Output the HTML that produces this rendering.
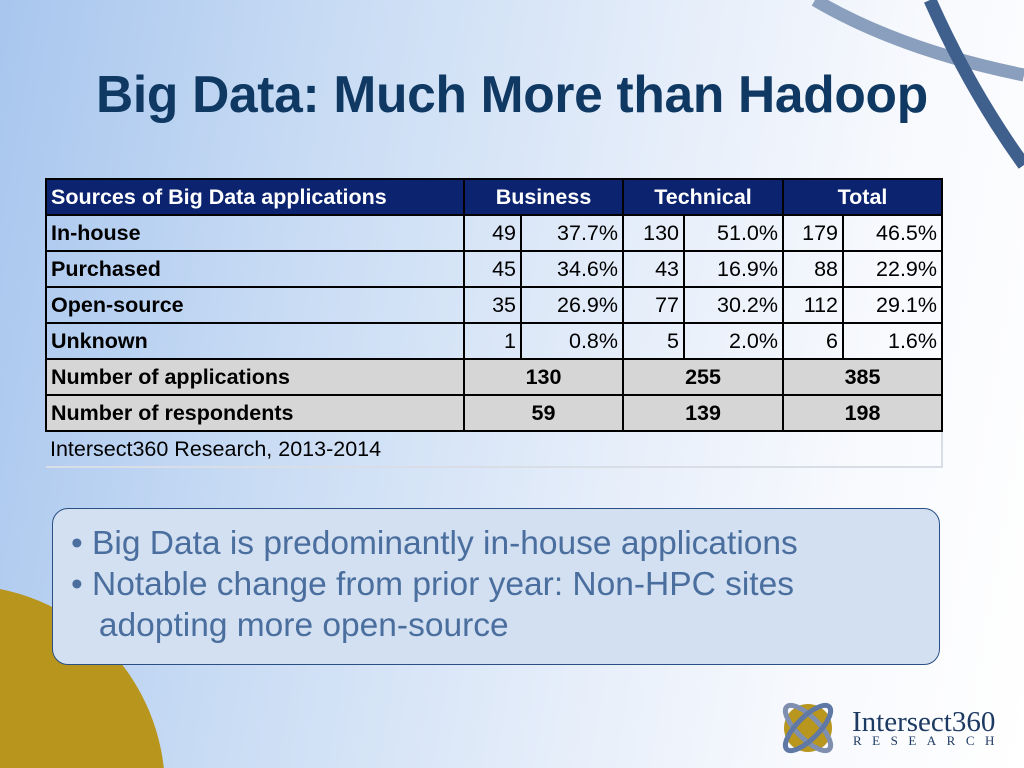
<!DOCTYPE html>
<html style="overflow:hidden"><head><meta charset="utf-8"><style>
html,body{margin:0;width:1024px;height:768px;overflow:hidden}
body{position:relative;font-family:"Liberation Sans",sans-serif;
background:linear-gradient(100deg,#a8c6ee 0%,#c9dcf4 30%,#e6eefa 60%,#f7f9fd 80%,#ffffff 100%);}
.abs{position:absolute}
h1{position:absolute;left:96px;top:64px;margin:0;font-size:51.5px;font-weight:bold;color:#0f3863;letter-spacing:-0.3px;white-space:nowrap}
table{position:absolute;left:45px;top:178px;border-collapse:collapse;font-size:21.5px;color:#000}
td{border:2px solid #000;height:34.8px;padding:0 4px;white-space:nowrap;line-height:34px;box-sizing:border-box}
.h td{background:#0c2470;color:#fff;font-weight:bold;text-align:center}
.h td:first-child{text-align:left}
.l{font-weight:bold;text-align:left}
.n{text-align:right}
.g td{background:#d6d6d6;font-weight:bold;text-align:center}
.g td.l{text-align:left}
.f td{border:none;border-bottom:2px solid #d8dde6;border-right:2px solid #d8dde6;font-weight:normal}
.box{left:52px;top:508px;width:886px;height:155px;border:1.5px solid #2a4f85;border-radius:16px;background:#d3e0f1;overflow:hidden}
.box div{position:absolute;left:18px;top:14px;font-size:33.5px;color:#4a6e9e;line-height:41px;white-space:nowrap}
</style></head><body>
<svg class="abs" style="left:0;top:0" width="1024" height="768">
<path d="M815,0 Q900,50 1024,75" stroke="#8a9fbd" stroke-width="13" fill="none"/>
<path d="M930,0 Q970,90 1024,165" stroke="#3f5f8c" stroke-width="13" fill="none"/>
<circle cx="-40" cy="790" r="205" fill="#b8961e"/>
</svg>
<h1>Big Data: Much More than Hadoop</h1>
<table>
<colgroup><col style="width:418px"><col style="width:57px"><col style="width:102px"><col style="width:61px"><col style="width:99px"><col style="width:60px"><col style="width:99px"></colgroup>
<tr class="h"><td>Sources of Big Data applications</td><td colspan="2">Business</td><td colspan="2">Technical</td><td colspan="2">Total</td></tr>
<tr><td class="l">In-house</td><td class="n">49</td><td class="n">37.7%</td><td class="n">130</td><td class="n">51.0%</td><td class="n">179</td><td class="n">46.5%</td></tr>
<tr><td class="l">Purchased</td><td class="n">45</td><td class="n">34.6%</td><td class="n">43</td><td class="n">16.9%</td><td class="n">88</td><td class="n">22.9%</td></tr>
<tr><td class="l">Open-source</td><td class="n">35</td><td class="n">26.9%</td><td class="n">77</td><td class="n">30.2%</td><td class="n">112</td><td class="n">29.1%</td></tr>
<tr><td class="l">Unknown</td><td class="n">1</td><td class="n">0.8%</td><td class="n">5</td><td class="n">2.0%</td><td class="n">6</td><td class="n">1.6%</td></tr>
<tr class="g"><td class="l">Number of applications</td><td colspan="2">130</td><td colspan="2">255</td><td colspan="2">385</td></tr>
<tr class="g"><td class="l">Number of respondents</td><td colspan="2">59</td><td colspan="2">139</td><td colspan="2">198</td></tr>
<tr class="f"><td colspan="7" style="text-align:left">Intersect360 Research, 2013-2014</td></tr>
</table>
<div class="abs box"><div>• Big Data is predominantly in-house applications<br>• Notable change from prior year: Non-HPC sites<br>&nbsp;&nbsp;&nbsp;adopting more open-source</div></div>
<svg class="abs" style="left:778px;top:695px" width="246" height="65">
<circle cx="30" cy="33" r="24" fill="#b9961e"/>
<ellipse cx="30" cy="33" rx="30" ry="11" transform="rotate(45 30 33)" stroke="#7f8fb0" stroke-width="5" fill="none"/>
<ellipse cx="30" cy="33" rx="30" ry="11" transform="rotate(-45 30 33)" stroke="#5f78a5" stroke-width="5" fill="none"/>
<text x="74" y="36" font-family="Liberation Serif,serif" font-size="29" fill="#1d3a62">Intersect360</text>
<text x="75" y="50" font-family="Liberation Serif,serif" font-size="13" fill="#1d3a62" letter-spacing="10.5">RESEARCH</text>
</svg>
</body></html>
